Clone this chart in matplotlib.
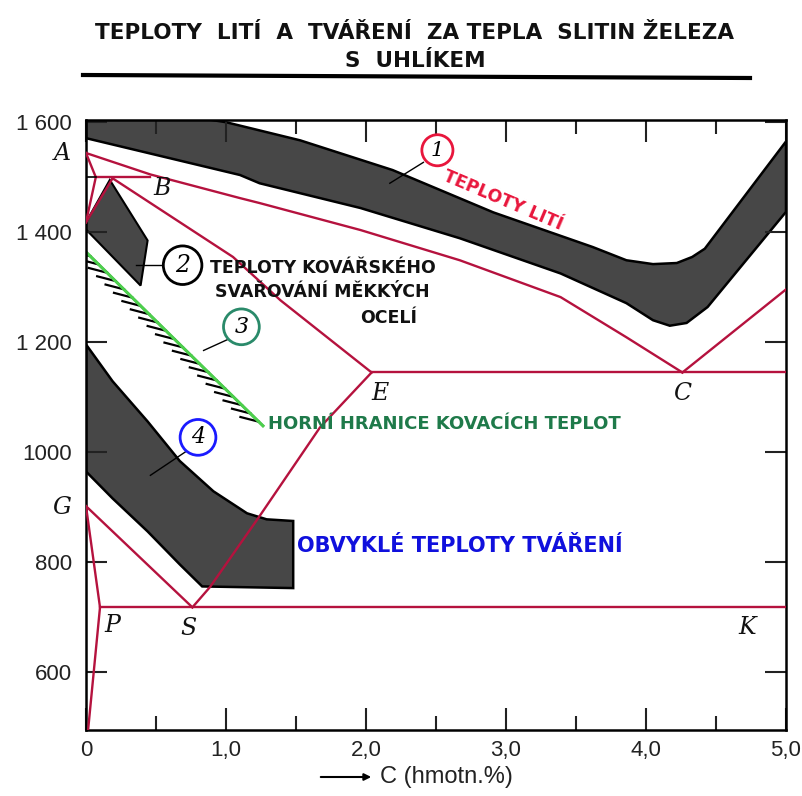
import numpy as np
import matplotlib
matplotlib.use("Agg")
import matplotlib.pyplot as plt
from matplotlib import patheffects
from matplotlib.lines import Line2D

# phase diagram lines (C wt.%, temperature degC)
liq_x = [0.0, 0.46, 1.1, 1.24, 1.96, 2.67, 3.39, 3.86, 4.26]
liq_t = [1544, 1505, 1462, 1453, 1404, 1349, 1282, 1209, 1145]
liq2_x = [4.26, 5.0]
liq2_t = [1145, 1296]
sol_x = [0.19, 1.05, 1.39, 2.04]
sol_t = [1498, 1355, 1276, 1145]
perit_x = [0.07, 0.46]
perit_t = [1500, 1500]
delta_x = [0.0, 0.07, 0.0]
delta_t = [1544, 1500, 1418]
jn_x = [0.19, 0.0]
jn_t = [1498, 1418]
eut_x = [2.04, 5.0]
eut_t = [1145, 1145]
acm_x = [0.76, 0.886, 1.243, 1.671, 2.04]
acm_t = [718, 755, 885, 1045, 1145]
gs_x = [0.0, 0.76]
gs_t = [902, 718]
gp_x = [0.0, 0.1, 0.015]
gp_t = [902, 718, 495]
eutd_x = [0.1, 5.0]
eutd_t = [718, 718]

# band 1 - casting temperatures
b1_top_x = [0, 1.0, 1.53, 2.19, 2.91, 3.62, 3.86, 4.05, 4.22, 4.33, 4.42, 5.0]
b1_top_t = [1640, 1600, 1567, 1513, 1436, 1373, 1349, 1342, 1344, 1355, 1370, 1565]
b1_bot_x = [0, 1.1, 1.24, 1.96, 2.67, 3.39, 3.86, 4.05, 4.17, 4.29, 4.44, 5.0]
b1_bot_t = [1571, 1504, 1489, 1444, 1389, 1325, 1271, 1240, 1230, 1235, 1264, 1437]
# band 2 - forge welding of mild steels
b2_x = [0.17, 0.44, 0.39, 0.0, 0.0]
b2_t = [1495, 1385, 1303, 1405, 1418]
# line 3 - upper forging limit
hf_x = [0.0, 0.63, 1.264]
hf_t = [1364, 1206, 1048]
# band 4 - usual forming temperatures
b4_top_x = [0, 0.19, 0.44, 0.67, 0.91, 1.15, 1.29, 1.48]
b4_top_t = [1196, 1129, 1056, 984, 929, 889, 878, 875]
b4_bot_x = [0, 0.19, 0.44, 0.67, 0.83, 1.48]
b4_bot_t = [965, 916, 856, 796, 756, 753]

xticks = [0, 1, 2, 3, 4, 5]
xlabels = ['0', '1,0', '2,0', '3,0', '4,0', '5,0']
yticks = [600, 800, 1000, 1200, 1400, 1600]
ylabels = ['600', '800', '1000', '1 200', '1 400', '1 600']

red = '#b5123e'
fig = plt.figure(figsize=(8.03, 7.96), dpi=100)
ax = fig.add_axes([86/803, 1-730/796, 700/803, 610/796])
ax.set_xlim(0, 5)
ax.set_ylim(495, 1604)

gray = '#474747'
ax.fill(b1_top_x + b1_bot_x[::-1], b1_top_t + b1_bot_t[::-1],
        fc=gray, ec='k', lw=1.8, zorder=1)
ax.fill(b2_x, b2_t, fc=gray, ec='k', lw=1.5, zorder=1)
ax.fill(b4_top_x + b4_bot_x[::-1], b4_top_t + b4_bot_t[::-1],
        fc=gray, ec='k', lw=1.8, zorder=1)

# hatched upper forging limit
ax.plot(hf_x, hf_t, color='k', lw=1.6, zorder=2,
        path_effects=[patheffects.withTickedStroke(angle=-150, spacing=8.5, length=1.6)])
ax.plot(hf_x, hf_t, color='#4cd04c', lw=2.2, zorder=2)

for xs, ts in [(liq_x, liq_t), (liq2_x, liq2_t), (sol_x, sol_t), (perit_x, perit_t),
               (delta_x, delta_t), (jn_x, jn_t), (eut_x, eut_t), (acm_x, acm_t),
               (gs_x, gs_t), (gp_x, gp_t), (eutd_x, eutd_t)]:
    ax.plot(xs, ts, color=red, lw=1.7, zorder=3, solid_joinstyle='miter')
ax.plot([0, 0.07], [1500, 1500], color='k', lw=1.2, zorder=3)

# point letters
serif = dict(family='DejaVu Serif', style='italic', fontsize=17, color='#111',
             ha='center', va='center', clip_on=False)
for s, x, t in [('A', -0.17, 1544), ('B', 0.54, 1480), ('E', 2.1, 1107), ('C', 4.26, 1107),
                ('G', -0.17, 900), ('P', 0.19, 685), ('S', 0.73, 680), ('K', 4.72, 682)]:
    ax.text(x, t, s, **serif)

# circled numbers with leaders
circ = [('1', 2.51, 1549, '#e8163c', 15, 0.29, (2.41, 2.17), (1527, 1489)),
        ('2', 0.69, 1340, 'k', 17, 0.33, (0.57, 0.36), (1340, 1340)),
        ('3', 1.11, 1228, '#2a8a6a', 16, 0.31, (1.03, 0.84), (1207, 1185)),
        ('4', 0.80, 1027, '#1a1aff', 16, 0.31, (0.73, 0.46), (1004, 958))]
for s, x, t, c, fs, pad, lx, lt in circ:
    ax.plot(lx, lt, color='k', lw=1.0, zorder=4)
    ax.text(x, t, s, family='DejaVu Serif', style='italic', fontsize=fs, color='k',
            ha='center', va='center', zorder=5,
            bbox=dict(boxstyle='circle,pad=%.2f' % pad, fc='white', ec=c, lw=2))

bold = dict(family='DejaVu Sans', fontweight='bold', va='center', ha='left')
ax.text(2.98, 1458, 'TEPLOTY LITÍ', color='#e8163c', fontsize=12.5, rotation=-23,
        family='DejaVu Sans', fontweight='bold', ha='center', va='center')
ax.text(0.886, 1335, 'TEPLOTY KOVÁŘSKÉHO', color='#111', fontsize=12.5, **bold)
ax.text(0.92, 1291, 'SVAŘOVÁNÍ MĚKKÝCH', color='#111', fontsize=12.5, **bold)
ax.text(1.96, 1244, 'OCELÍ', color='#111', fontsize=12.5, **bold)
ax.text(1.3, 1051, 'HORNÍ HRANICE KOVACÍCH TEPLOT', color='#1f7a4a', fontsize=13, **bold)
ax.text(1.51, 830, 'OBVYKLÉ TEPLOTY TVÁŘENÍ', color='#1010dd', fontsize=15, **bold)

# axes styling
for sp in ax.spines.values():
    sp.set_linewidth(1.8)
ax.set_xticks(xticks)
ax.set_xticklabels(xlabels)
ax.set_xticks(np.arange(0.5, 5, 1.0), minor=True)
ax.set_yticks(yticks)
ax.set_yticklabels(ylabels)
ax.set_yticks(np.arange(500, 1600, 200) + 100, minor=True)
ax.tick_params(which='both', direction='in', top=True, right=True, width=1.5,
               colors='#222', labelsize=16)
ax.tick_params(which='major', length=16)
ax.tick_params(which='minor', length=10)
ax.tick_params(axis='y', which='both', length=15, pad=10)
ax.tick_params(axis='x', pad=7)
for lab in ax.get_xticklabels() + ax.get_yticklabels():
    lab.set_family('Liberation Sans')

# title and underline
fig.text(415/803, 1-33/796, 'TEPLOTY  LITÍ  A  TVÁŘENÍ  ZA TEPLA  SLITIN ŽELEZA',
         ha='center', va='center', fontsize=15.5, fontweight='bold', color='#111')
fig.text(415/803, 1-61/796, 'S  UHLÍKEM', ha='center', va='center', fontsize=15.5,
         fontweight='bold', color='#111')
fig.add_artist(Line2D([83/803, 750/803], [1-75/796, 1-78/796], color='k', lw=3))

# x axis label with arrow
ax.annotate('', xy=(374, 19), xytext=(318, 19), xycoords='figure pixels',
            arrowprops=dict(arrowstyle='-|>', color='k', lw=1.5))
fig.text(380/803, 19/796, 'C (hmotn.%)', ha='left', va='center', fontsize=17,
         family='Liberation Sans', color='#222')

fig.savefig('out.png', dpi=100)
